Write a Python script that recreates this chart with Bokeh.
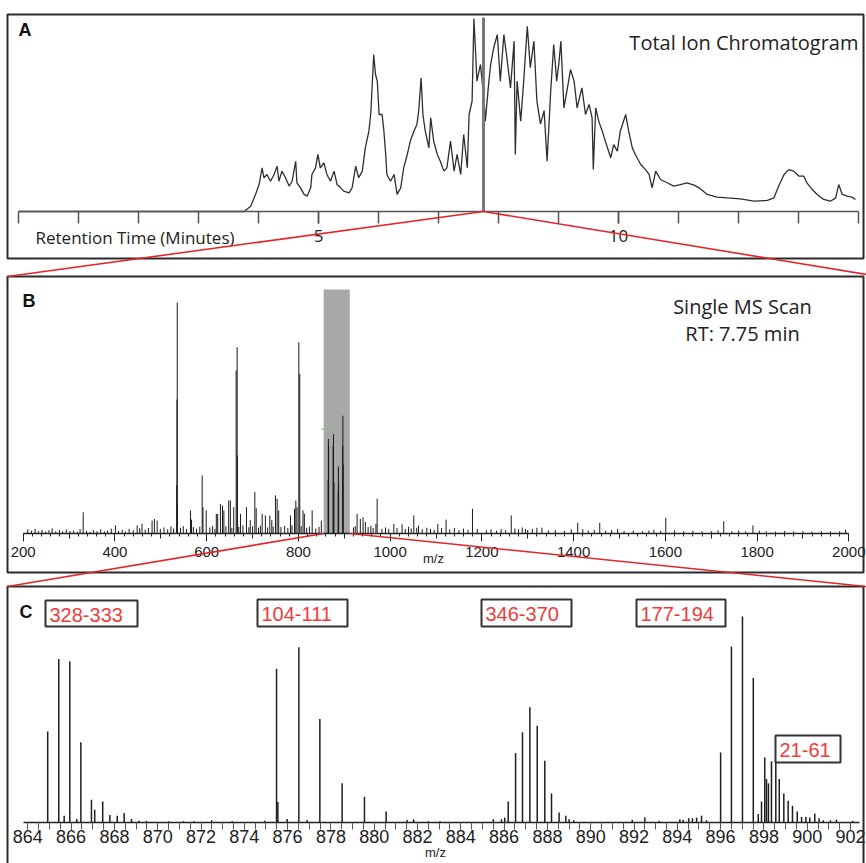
from bokeh.plotting import figure
from bokeh.models import Range1d, LinearAxis, FixedTicker, ColumnDataSource
from bokeh.core.properties import value
from bokeh.embed import file_html
from bokeh.resources import INLINE

# ---------------------------------------------------------------- data
scan_rt = 7.75  # minutes, retention time of the selected MS scan

# Total ion chromatogram (relative intensity, %)
tic_time = [0.0, 3.76, 3.87, 3.95, 4.01, 4.06, 4.09, 4.14, 4.20, 4.26, 4.31, 4.34,
            4.39, 4.45, 4.51, 4.56, 4.62, 4.64, 4.70, 4.76, 4.81, 4.87, 4.89, 4.95,
            4.99, 5.03, 5.09, 5.14, 5.20, 5.26, 5.31, 5.37, 5.42, 5.51, 5.56, 5.62,
            5.67, 5.73, 5.78, 5.84, 5.87, 5.89, 5.92, 5.95, 5.98, 6.01, 6.06, 6.09,
            6.12, 6.14, 6.20, 6.26, 6.31, 6.37, 6.42, 6.48, 6.53, 6.59, 6.64, 6.67,
            6.71, 6.74, 6.78, 6.84, 6.87, 6.92, 6.98, 7.03, 7.09, 7.14, 7.20, 7.26,
            7.31, 7.37, 7.42, 7.48, 7.51, 7.56, 7.59, 7.62, 7.64, 7.70, 7.76, 7.78,
            7.84, 7.87, 7.92, 7.98, 8.03, 8.09, 8.14, 8.20, 8.26, 8.28, 8.31, 8.37,
            8.42, 8.48, 8.53, 8.59, 8.64, 8.70, 8.76, 8.81, 8.87, 8.92, 8.97, 9.01,
            9.04, 9.09, 9.14, 9.20, 9.26, 9.31, 9.39, 9.45, 9.51, 9.56, 9.58, 9.62,
            9.67, 9.73, 9.78, 9.87, 9.92, 9.98, 10.03, 10.12, 10.17, 10.23, 10.28,
            10.37, 10.45, 10.51, 10.56, 10.62, 10.70, 10.81, 10.92, 11.03, 11.14,
            11.26, 11.34, 11.48, 11.64, 11.81, 12.03, 12.26, 12.48, 12.59, 12.67,
            12.76, 12.84, 12.92, 13.01, 13.09, 13.14, 13.23, 13.31, 13.42, 13.53,
            13.62, 13.67, 13.73, 13.81, 13.89, 13.95]
tic_intensity = [0.0, 0.0, 2.7, 8.8, 13.9, 22.5, 17.4, 19.1, 15.6, 19.1, 23.4, 15.6,
                 20.8, 17.4, 13.1, 15.6, 25.9, 14.8, 12.2, 8.8, 7.9, 12.2, 19.1, 22.5,
                 29.4, 22.5, 25.1, 19.1, 15.6, 20.8, 13.9, 12.2, 10.5, 9.6, 12.2, 23.4,
                 17.4, 20.8, 32.8, 41.4, 50.0, 62.0, 80.9, 70.6, 67.2, 50.0, 50.0, 41.4,
                 29.4, 19.1, 15.6, 19.1, 8.8, 12.2, 22.5, 29.4, 36.3, 41.4, 44.8, 51.7,
                 68.9, 50.0, 41.4, 32.8, 48.3, 36.3, 29.4, 25.9, 20.8, 22.5, 36.3, 20.8,
                 29.4, 19.1, 39.7, 22.5, 50.0, 56.9, 99.5, 80.9, 67.2, 75.8, 56.9, 46.6,
                 67.2, 75.8, 84.4, 91.2, 67.2, 91.2, 79.2, 63.7, 87.8, 29.4, 67.2, 46.6,
                 67.2, 95.5, 74.1, 87.8, 56.9, 45.0, 52.0, 25.9, 62.0, 86.1, 67.2, 77.5,
                 87.8, 53.4, 62.0, 73.2, 67.2, 53.4, 63.7, 50.0, 55.2, 48.3, 21.6, 53.4,
                 46.6, 41.4, 36.3, 27.7, 34.5, 31.1, 41.4, 50.0, 41.4, 32.8, 29.4,
                 24.2, 21.6, 19.1, 12.2, 20.8, 16.5, 14.8, 13.1, 13.9, 14.8,
                 13.6, 12.2, 8.8, 7.4, 7.0, 6.5, 5.3, 5.7, 7.0, 13.1,
                 19.1, 21.6, 20.8, 18.2, 18.2, 14.8, 11.3, 8.8, 6.2, 5.3,
                 7.0, 13.9, 8.8, 7.9, 7.4, 6.2]
tic_ticks = list(range(0, 15))
tic_labeled_ticks = [5, 10]

# Single MS scan: resolved peaks (m/z, relative intensity %)
ms_mz = [330.8, 401, 448.5, 459, 481, 486, 492, 534.8, 535.3, 535.8, 536.3, 564.7,
         567, 590.2, 592, 599, 621, 624, 630, 634.5, 637.5, 648, 651.7, 659, 664.3,
         666.5, 667, 673.7, 686.8, 695, 705, 708, 721, 728, 737.7, 742, 750, 753.6,
         757, 782.7, 791.5, 794.4, 797, 800.9, 803, 810, 813, 830, 850, 864.9,
         865.4, 865.9, 875.6, 876.5, 877.5, 886.8, 887.2, 887.6, 896.5, 897.0,
         897.5, 928, 935, 941, 946, 969, 971.7, 1008, 1026, 1051.6, 1062, 1080,
         1104, 1122, 1179.5, 1264, 1295, 1320, 1331, 1409, 1457, 1496, 1564, 1601,
         1727.3, 1791, 1993]
ms_intensity = [9.2, 3.5, 3.5, 4.2, 5.6, 6.3, 5.6, 21.0, 58.0, 100.0, 12.0, 10.0,
                6.0, 25.1, 11.4, 10.0, 8.5, 8.5, 12.8, 12.1, 10.0, 14.3, 14.3, 11.4, 70.6,
                80.7, 33.8, 8.5, 11.4, 5.8, 17.9, 11.0, 8.5, 7.8, 7.8, 5.8, 16.5, 15.0,
                10.0, 7.8, 10.7, 14.3, 11.4, 82.8, 69.1, 10.0, 8.6, 10.0, 5.6, 23.0,
                41.0, 38.0, 38.0, 43.0, 22.0, 18.0, 29.0, 22.0, 38.0, 51.0,
                30.0, 8.5, 6.3, 7.0, 5.0, 4.2, 15.0, 4.2, 4.0, 7.8, 3.5, 2.5,
                4.2, 6.0, 10.7, 7.8, 2.0, 2.5, 2.5, 4.6, 4.6, 2.0, 1.3, 6.8,
                5.3, 3.5, 1.6]
# low-level signal along the baseline of the same scan
ms_noise_mz = [210, 218, 226, 233, 241, 249, 256, 263, 271, 279, 286, 294, 302, 310,
               318, 324, 338, 346, 353, 361, 369, 377, 384, 392, 408, 416, 423, 431,
               440, 454, 466, 473, 499, 507, 515, 522, 528, 543, 549, 556, 571, 578,
               585, 607, 613, 618, 642, 655, 670, 679, 692, 700, 713, 717, 733, 745,
               762, 770, 777, 786, 806, 818, 824, 838, 845, 920, 924, 952, 958, 963,
               982, 990, 997, 1015, 1033, 1040, 1046, 1058, 1070, 1088, 1096, 1112,
               1130, 1140, 1150, 1160, 1170, 1190, 1210, 1220, 1232, 1242, 1252, 1272,
               1280, 1288, 1300, 1310, 1345, 1360, 1380, 1395, 1420, 1432, 1445, 1470,
               1483, 1510, 1530, 1550, 1575, 1590, 1620, 1640, 1660, 1680, 1700, 1715,
               1745, 1760, 1775, 1805, 1820, 1840, 1860, 1880, 1900, 1920, 1940, 1960,
               1980]
ms_noise_intensity = [1.8, 1.2, 2.0, 1.0, 1.6, 0.8, 1.4, 2.2, 1.0, 1.5, 0.9, 1.7, 1.1,
                      1.3, 0.8, 1.9, 1.2, 0.7, 1.5, 1.0, 1.8, 0.9, 1.3, 2.1, 1.1, 1.6,
                      0.9, 2.0, 1.4, 2.3, 1.7, 2.4, 2.0, 2.6, 1.8, 3.0, 2.2, 2.5, 3.2,
                      1.9, 2.8, 2.1, 3.0, 2.6, 3.3, 2.0, 3.1, 2.4, 2.9, 3.5, 2.7, 3.1,
                      2.5, 3.4, 2.6, 3.0, 2.8, 3.3, 2.4, 3.6, 3.2, 2.5, 3.0, 2.2, 2.8,
                      2.6, 3.2, 2.8, 3.4, 2.4, 2.0, 2.6, 1.9, 2.4, 2.0, 2.9, 2.2, 2.5,
                      1.8, 2.0, 1.6, 2.3, 1.8, 2.4, 1.5, 2.1, 1.6, 2.0, 1.4, 1.8, 1.2,
                      1.9, 1.5, 2.2, 1.8, 2.6, 1.5, 2.0, 1.3, 1.5, 1.2, 1.8, 1.9, 1.3,
                      1.6, 1.2, 1.5, 1.1, 1.3, 1.0, 1.6, 1.2, 1.4, 1.0, 1.2, 0.9, 1.1,
                      1.4, 1.0, 1.3, 0.9, 1.2, 1.0, 0.8, 1.1, 0.9, 1.0, 0.8, 1.1, 0.9,
                      1.0]
ms_trace_mz = [849, 868, 874]          # short centroid trace drawn in green
ms_trace_intensity = [45.3, 44.6, 43.0]
window_mz = [855, 912]                 # m/z window expanded below
ms_ticks = list(range(200, 2001, 200))
ms_mid_ticks = list(range(300, 2000, 200))
ms_minor_ticks = list(range(200, 2001, 20))

# Expanded m/z window (relative intensity %)
zoom_mz = [864.92, 865.43, 865.68, 865.94, 866.26, 866.45, 866.94, 867.09, 867.46,
           867.79, 868.13, 868.45, 868.79, 869.13, 869.48, 870.51, 871.18, 871.67,
           872.49, 873.44, 874.95, 875.49, 875.55, 875.98, 876.52, 876.90, 877.49,
           878.52, 879.55, 880.55, 881.52, 881.82, 882.50, 883.04, 885.50, 885.88,
           886.03, 886.19, 886.53, 886.85, 887.19, 887.53, 887.88, 888.19, 888.54,
           888.85, 889.00, 889.22, 891.92, 892.50, 893.16, 894.12, 894.27, 894.53,
           894.70, 894.89, 895.12, 895.35, 896.00, 896.50, 897.01, 897.51, 897.74,
           897.89, 898.04, 898.12, 898.21, 898.35, 898.55, 898.71, 898.92, 899.12,
           899.32, 899.54, 899.74, 899.94, 900.12, 900.35, 900.55, 900.74, 901.07,
           901.35, 902.10]
zoom_intensity = [44.2, 79.4, 3.3, 78.1, 1.7, 38.9, 11.0, 6.2, 10.2,
                  3.7, 3.3, 4.6, 1.7, 0.9, 0.9, 0.6, 0.6, 0.6,
                  1.1, 0.6, 0.9, 74.6, 10.0, 1.7, 85.1, 1.2, 50.2,
                  19.0, 12.5, 5.3, 1.2, 1.5, 0.6, 0.6, 1.6, 1.6,
                  2.4, 10.2, 33.7, 43.8, 55.9, 47.0, 30.0, 14.1, 4.9,
                  3.3, 1.6, 1.1, 1.3, 2.4, 0.8, 1.6, 1.3, 2.1,
                  2.1, 2.4, 3.3, 1.1, 34.0, 85.4, 100.0, 70.2, 4.1,
                  10.2, 31.6, 21.1, 19.0, 29.7, 30.0, 21.1, 14.1, 10.5,
                  8.1, 5.4, 2.7, 2.7, 2.4, 4.4, 2.1, 1.1, 1.1,
                  1.4, 0.8]
zoom_ticks = list(range(864, 903, 2))
zoom_minor_ticks = [864 + 0.5 * i for i in range(77)]
zoom_labels = ["328-333", "104-111", "346-370", "177-194", "21-61"]

# ---------------------------------------------------------------- page layout
W, H = 866, 863
INK = "#222222"
RED = "#e3262c"
SANS = "Liberation Sans"

# (data value, page pixel) reference pairs for each panel scale; page y grows downward
TIC_X = (0, 18, 14, 858)
TIC_Y = (0, 211, 100, 17)
MS_X = (200, 22.7, 2000, 848.3)
MS_Y = (0, 533, 100, 302)
ZM_X = (864, 27.3, 902, 850)
ZM_Y = (0, 822, 100, 616)

frame_left = [7, 7, 7]
frame_right = [863, 863, 863]
frame_top = [14, 276, 586]
frame_bottom = [258, 572, 880]

label_left = [45, 257, 481, 636, 775]
label_right = [137, 347, 571, 725, 840]
label_top = [600, 599, 599, 599, 735]
label_bottom = [626, 626, 626, 626, 762]


def to_px(m, v):
    v0, p0, v1, p1 = m
    return p0 + (v - v0) * (p1 - p0) / (v1 - v0)


def page_range(m, lo, hi):
    v0, p0, v1, p1 = m
    k = (v1 - v0) / (p1 - p0)
    return Range1d(start=v0 + (lo - p0) * k, end=v0 + (hi - p0) * k)


p = figure(width=W, height=H, x_range=Range1d(0, W), y_range=Range1d(H, 0),
           x_axis_type=None, y_axis_type=None, toolbar_location=None,
           output_backend="svg", min_border=0, outline_line_color=None,
           background_fill_color="white", border_fill_color="white")
p.extra_x_ranges = {"tic_x": page_range(TIC_X, 0, W),
                    "ms_x": page_range(MS_X, 0, W),
                    "zm_x": page_range(ZM_X, 0, W)}
p.extra_y_ranges = {"tic_y": page_range(TIC_Y, H, 0),
                    "ms_y": page_range(MS_Y, H, 0),
                    "zm_y": page_range(ZM_Y, H, 0)}

# panel frames
p.quad(left=frame_left, right=frame_right, top=frame_top, bottom=frame_bottom,
       fill_color=None, line_color="#2b2b2b", line_width=2)

# ---- A: total ion chromatogram
p.line(tic_time, tic_intensity, x_range_name="tic_x", y_range_name="tic_y",
       line_color="#2e2e2e", line_width=1.3)
p.segment(x0=[scan_rt], y0=[0], x1=[scan_rt], y1=[100],
          x_range_name="tic_x", y_range_name="tic_y",
          line_color="#7a7a7a", line_width=3)
ax_a = LinearAxis(x_range_name="tic_x", y_range_name="tic_y", fixed_location=0,
                  ticker=FixedTicker(ticks=tic_labeled_ticks, minor_ticks=tic_ticks),
                  bounds=(tic_ticks[0], tic_ticks[-1]),
                  axis_line_color="#555555", axis_line_width=1.5,
                  major_tick_line_color="#555555", major_tick_line_width=1.5,
                  minor_tick_line_color="#555555", minor_tick_line_width=1.5,
                  major_tick_in=0, major_tick_out=12, minor_tick_in=0, minor_tick_out=12,
                  major_label_standoff=6, major_label_text_font="Open Sans",
                  major_label_text_font_size="17px", major_label_text_color=INK)
p.add_layout(ax_a, "below")

# ---- B: single MS scan
p.quad(left=[window_mz[0]], right=[window_mz[1]], bottom=[0], top=[105.6],
       x_range_name="ms_x", y_range_name="ms_y",
       fill_color="#a8a8a8", line_color=None)
ms_noise = ColumnDataSource(dict(mz=ms_noise_mz, inten=ms_noise_intensity))
p.segment(x0="mz", y0=0, x1="mz", y1="inten", source=ms_noise,
          x_range_name="ms_x", y_range_name="ms_y", line_color="#1a1a1a", line_width=1)
ms_src = ColumnDataSource(dict(mz=ms_mz, inten=ms_intensity))
p.segment(x0="mz", y0=0, x1="mz", y1="inten", source=ms_src,
          x_range_name="ms_x", y_range_name="ms_y", line_color="#1a1a1a", line_width=1)
p.line(ms_trace_mz, ms_trace_intensity, x_range_name="ms_x", y_range_name="ms_y",
       line_color="#7cc47c", line_width=1)

ax_b = LinearAxis(x_range_name="ms_x", y_range_name="ms_y", fixed_location=0,
                  ticker=FixedTicker(ticks=ms_ticks, minor_ticks=ms_minor_ticks),
                  bounds=(ms_ticks[0], ms_ticks[-1]),
                  axis_line_color=INK, axis_line_width=1.5,
                  major_tick_line_color=INK, minor_tick_line_color=INK,
                  major_tick_in=0, major_tick_out=8, minor_tick_in=0, minor_tick_out=3,
                  major_label_standoff=5, major_label_text_font=SANS,
                  major_label_text_font_size="15px", major_label_text_color=INK)
p.add_layout(ax_b, "below")
ax_b_mid = LinearAxis(x_range_name="ms_x", y_range_name="ms_y", fixed_location=0,
                      ticker=FixedTicker(ticks=ms_mid_ticks, minor_ticks=[]),
                      axis_line_color=None, major_tick_line_color=INK,
                      major_tick_in=0, major_tick_out=5, minor_tick_out=0,
                      major_label_text_color=None)
p.add_layout(ax_b_mid, "below")

# ---- C: expanded m/z window
zm_src = ColumnDataSource(dict(mz=zoom_mz, inten=zoom_intensity))
p.segment(x0="mz", y0=0, x1="mz", y1="inten", source=zm_src,
          x_range_name="zm_x", y_range_name="zm_y", line_color="#1e1e1e", line_width=1.5)
ax_c = LinearAxis(x_range_name="zm_x", y_range_name="zm_y", fixed_location=0,
                  ticker=FixedTicker(ticks=zoom_ticks, minor_ticks=zoom_minor_ticks),
                  bounds=(863.8, 902.4),
                  axis_line_color=INK, axis_line_width=1.5,
                  major_tick_line_color=INK, minor_tick_line_color="#555555",
                  major_tick_in=0, major_tick_out=7, minor_tick_in=0, minor_tick_out=7,
                  major_label_standoff=0, major_label_text_font=SANS,
                  major_label_text_font_size="18px", major_label_text_color=INK)
p.add_layout(ax_c, "below")

# peptide range labels
p.quad(left=label_left, right=label_right, top=label_top, bottom=label_bottom,
       fill_color="white", line_color="#333333", line_width=2)
p.text(x=[l + 4 for l in label_left],
       y=[(t + b) / 2 + 1 for t, b in zip(label_top, label_bottom)],
       text=zoom_labels, text_font=value(SANS),
       text_font_size=value("20px"), text_color="#ee3b3b",
       text_align="left", text_baseline="middle")

# ---- titles and axis captions
p.text(x=[18, 22, 19], y=[29, 300, 611], text=["A", "B", "C"],
       text_font=value(SANS), text_font_style="bold",
       text_font_size=value("18px"), text_color="#111111",
       text_align="left", text_baseline="middle")
p.text(x=[858], y=[42], text=["Total Ion Chromatogram"], text_font=value("Open Sans"),
       text_font_size=value("20px"), text_color=INK, text_align="right",
       text_baseline="middle")
p.text(x=[35], y=[237], text=["Retention Time (Minutes)"], text_font=value("Open Sans"),
       text_font_size=value("17px"), text_color=INK, text_align="left",
       text_baseline="middle")
p.text(x=[742, 742], y=[306, 333], text=["Single MS Scan", f"RT: {scan_rt} min"],
       text_font=value("Open Sans"), text_font_size=value("20px"), text_color=INK,
       text_align="center", text_baseline="middle")
p.text(x=[433, 435], y=[558, 852], text=["m/z", "m/z"],
       text_font=value(SANS), text_font_size=value("13px"),
       text_color=INK, text_align="center", text_baseline="middle")

# ---- red zoom connectors
rt_px, rt_py = to_px(TIC_X, scan_rt), to_px(TIC_Y, 0)
win_lo = to_px(MS_X, window_mz[0])
win_hi = to_px(MS_X, window_mz[1])
base_b = to_px(MS_Y, 0)
p.segment(x0=[rt_px, rt_px, win_lo, win_hi],
          y0=[rt_py, rt_py, base_b, base_b],
          x1=[frame_left[1], W, frame_left[2], W],
          y1=[frame_top[1], frame_top[1] - 2, frame_top[2], frame_top[2]],
          line_color=RED, line_width=1.6, level="overlay")

open("out.html", "w").write(file_html(p, INLINE))
